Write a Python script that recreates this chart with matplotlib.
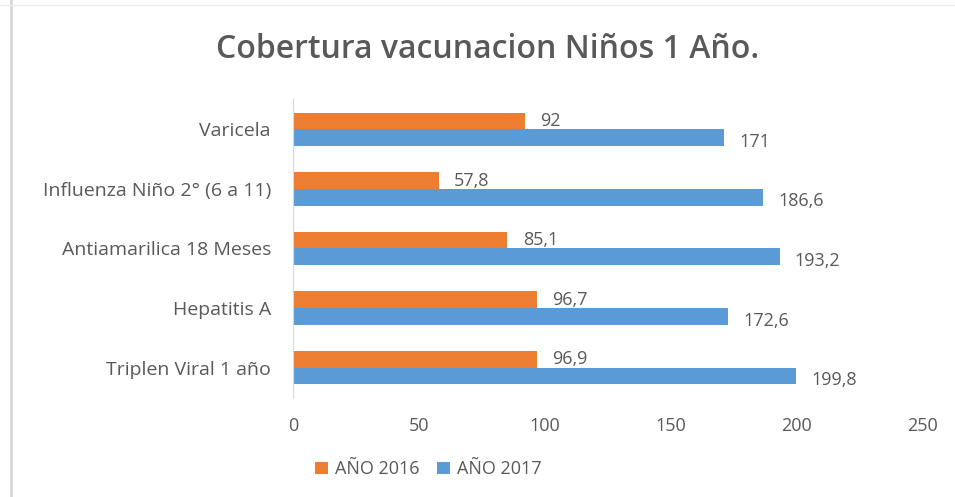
import numpy as np
import matplotlib.pyplot as plt

categories = ['Triplen Viral 1 año', 'Hepatitis A', 'Antiamarilica 18 Meses',
              'Influenza Niño 2° (6 a 11)', 'Varicela']
anio_2016 = [96.9, 96.7, 85.1, 57.8, 92]
anio_2017 = [199.8, 172.6, 193.2, 186.6, 171]
labels_2016 = ['96,9', '96,7', '85,1', '57,8', '92']
labels_2017 = ['199,8', '172,6', '193,2', '186,6', '171']
x_ticks = [0, 50, 100, 150, 200, 250]

orange = '#ED7D31'
blue = '#5B9BD5'
grey = '#595959'

plt.rcParams['font.family'] = ['Open Sans', 'DejaVu Sans']

fig = plt.figure(figsize=(9.55, 4.97), dpi=100)
ax = fig.add_axes([0.307, 0.2, 0.659, 0.6])

y = np.arange(len(categories))
h = 0.28
ax.barh(y + h / 2, anio_2016, height=h, color=orange, label='AÑO 2016')
ax.barh(y - h / 2, anio_2017, height=h, color=blue, label='AÑO 2017')

for yi, v, t in zip(y, anio_2016, labels_2016):
    ax.annotate(t, (v, yi + h / 2), xytext=(11, 0), textcoords='offset points',
                va='center', ha='left', fontsize=13, color=grey)
for yi, v, t in zip(y, anio_2017, labels_2017):
    ax.annotate(t, (v, yi - h / 2), xytext=(11, -3), textcoords='offset points',
                va='center', ha='left', fontsize=13, color=grey)

ax.set_xlim(0, 250)
ax.set_ylim(-0.5, len(categories) - 0.5)
ax.set_xticks(x_ticks)
ax.set_yticks(y)
ax.set_yticklabels(categories, fontsize=14)
ax.tick_params(axis='both', length=0, colors=grey)
ax.tick_params(axis='x', labelsize=13, pad=14)
ax.tick_params(axis='y', pad=16)
for side in ['top', 'right', 'bottom']:
    ax.spines[side].set_visible(False)
ax.spines['left'].set_color('#D9D9D9')

fig.text(0.511, 0.9, 'Cobertura vacunacion Niños 1 Año.', ha='center', va='center',
         fontsize=23, color=grey, fontweight='semibold')

ax.legend(loc='center', bbox_to_anchor=(0.215, -0.24),
          ncol=2, frameon=False, fontsize=13, labelcolor=grey,
          handlelength=0.7, handleheight=0.7, columnspacing=1.0, handletextpad=0.4)

fig.add_artist(plt.Line2D([0.011, 0.011], [0, 1], color='#D9D9D9', lw=2))
fig.add_artist(plt.Line2D([0, 1], [0.99, 0.99], color='#EEEEEE', lw=1))

fig.savefig('out.png', dpi=100)
